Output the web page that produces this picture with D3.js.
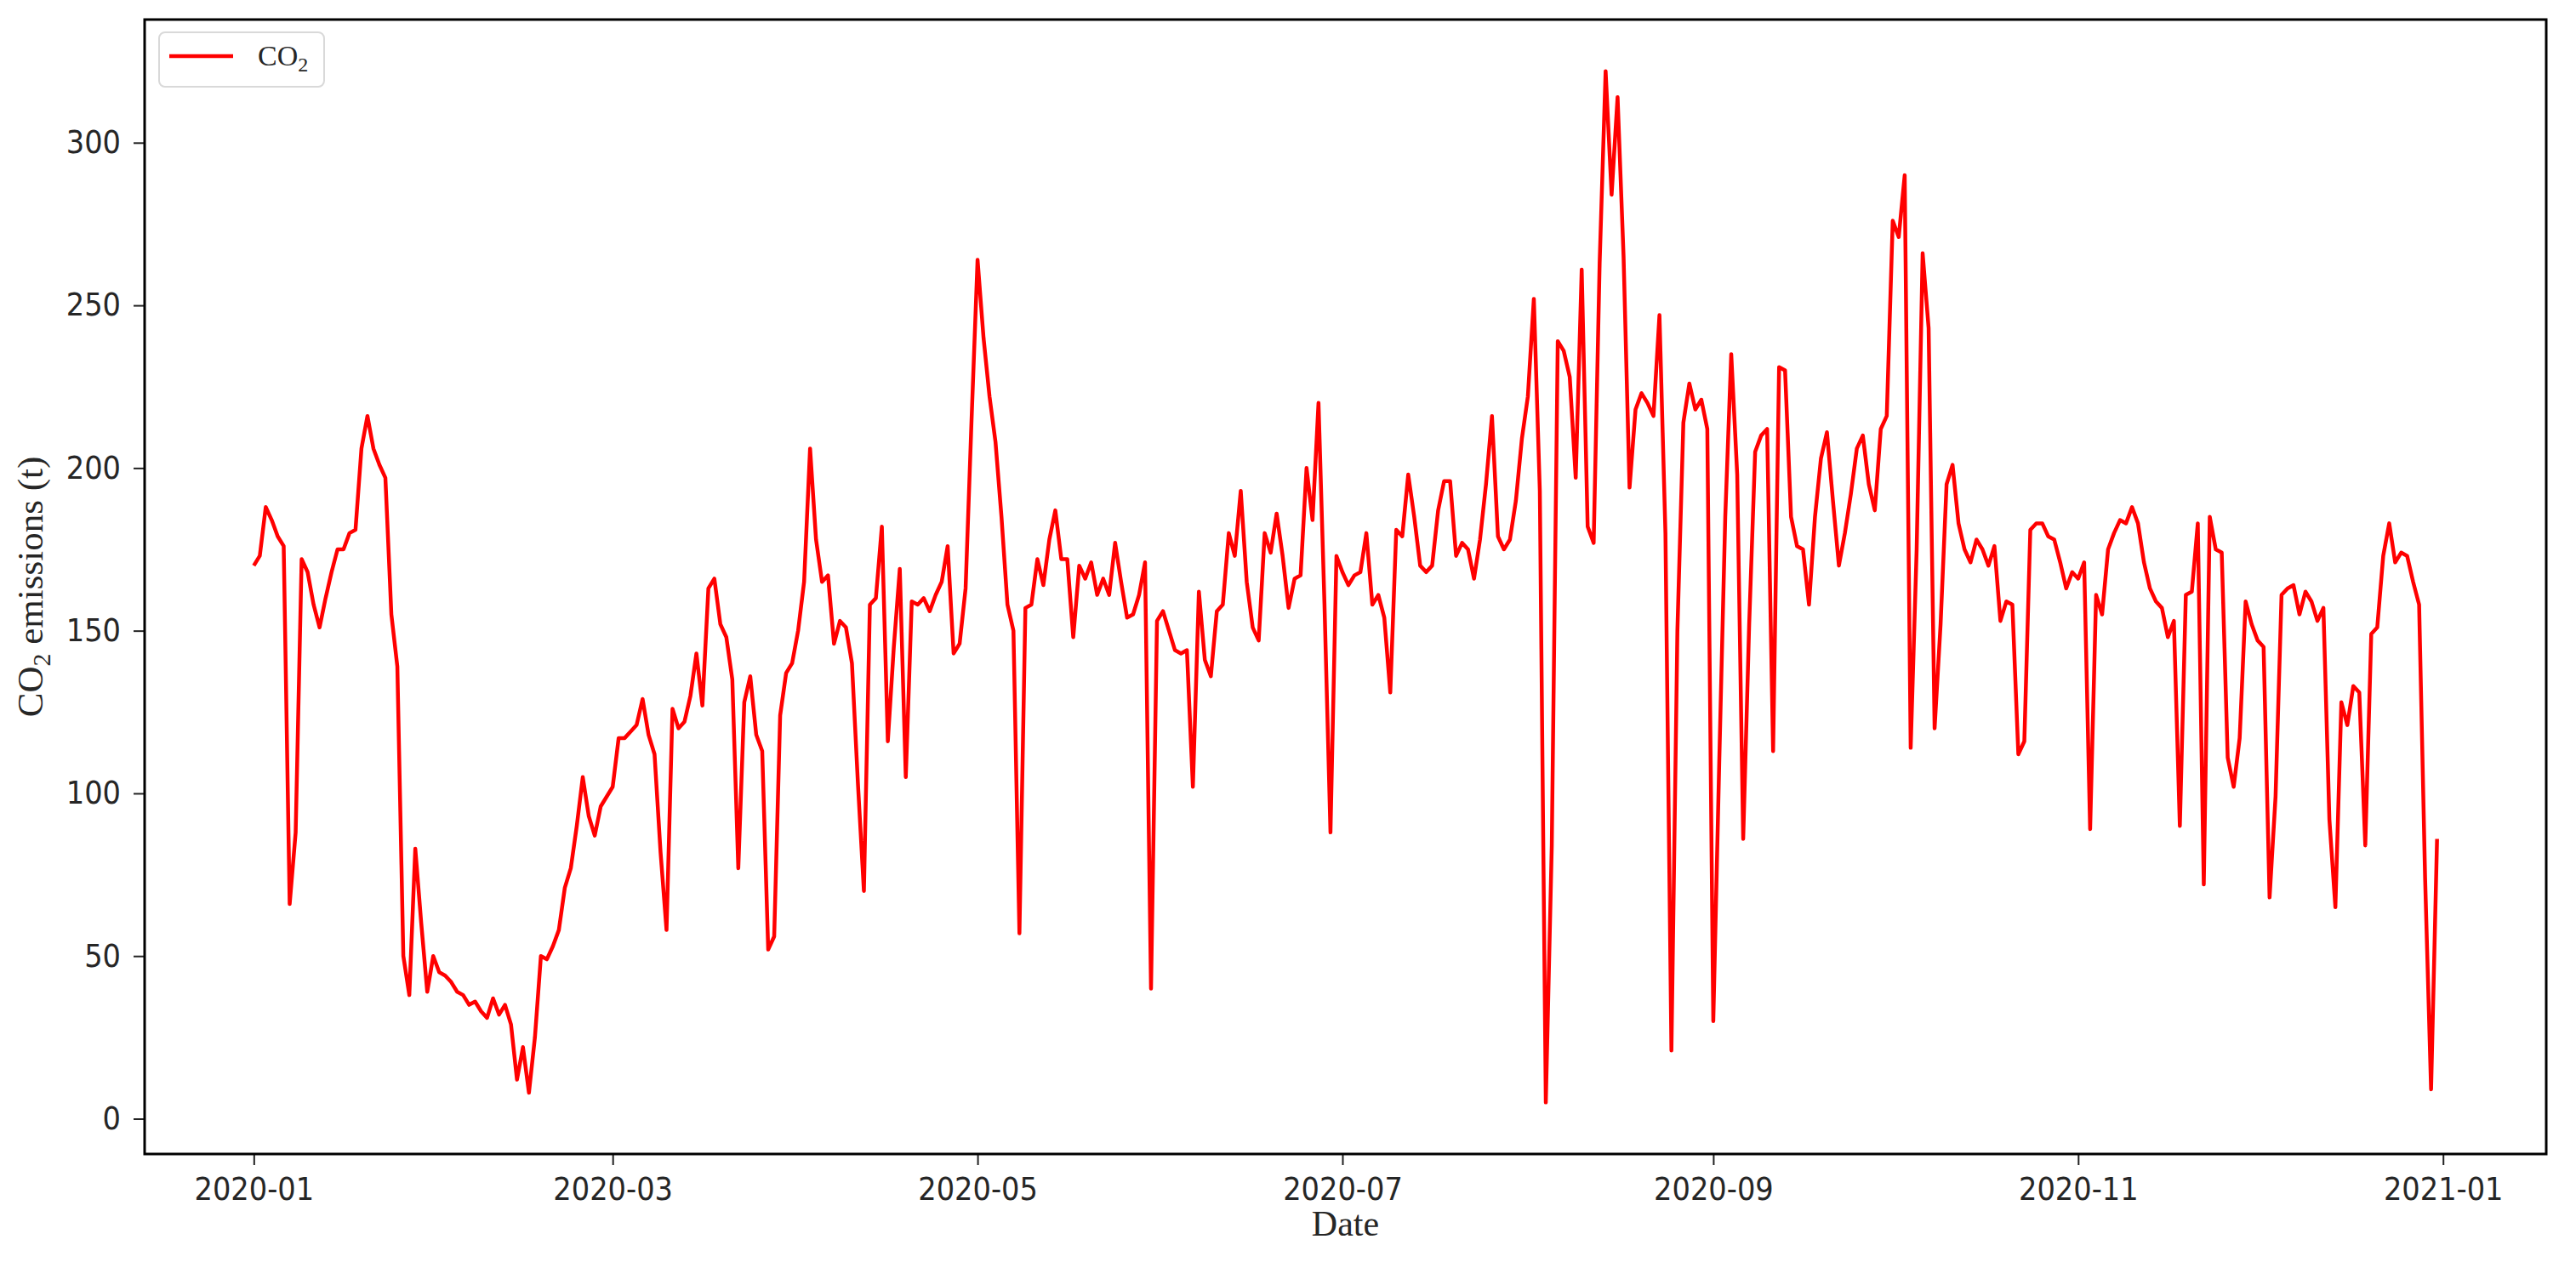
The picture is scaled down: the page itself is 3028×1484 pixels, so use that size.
<!DOCTYPE html>
<html>
<head>
<meta charset="utf-8">
<script src="https://cdn.jsdelivr.net/npm/d3@7/dist/d3.min.js"></script>
<style>
  html, body { margin: 0; padding: 0; background: #ffffff; }
  svg { display: block; }
</style>
</head>
<body>
<svg id="chart" width="3028" height="1484"></svg>
<script>
// ---------------- DATA ----------------
const startDate = "2020-01-01";
// Daily CO2 emissions (t), 2020-01-01 .. 2020-12-31
const co2Values = [
  170,173,188,184,179,176,66,88,172,168,
  158,151,160,168,175,175,180,181,206,216,
  206,201,197,155,139,50,38,83,60,39,
  50,45,44,42,39,38,35,36,33,31,
  37,32,35,29,12,22,8,25,50,49,
  53,58,71,77,90,105,93,87,96,99,
  102,117,117,119,121,129,118,112,82,58,
  126,120,122,130,143,127,163,166,152,148,
  135,77,128,136,118,113,52,56,124,137,
  140,150,165,206,178,165,167,146,153,151,
  140,103,70,158,160,182,116,145,169,105,
  159,158,160,156,161,165,176,143,146,163,
  215,264,240,222,208,185,158,150,57,157,
  158,172,164,178,187,172,172,148,170,166,
  171,161,166,161,177,165,154,155,161,171,
  40,153,156,150,144,143,144,102,162,141,
  136,156,158,180,173,193,165,151,147,180,
  174,186,173,157,166,167,200,184,220,158,
  88,173,168,164,167,168,180,158,161,154,
  131,181,179,198,185,170,168,170,187,196,
  196,173,177,175,166,178,195,216,179,175,
  178,190,209,222,252,193,5,84,239,236,
  228,197,261,182,177,263,322,284,314,265,
  194,218,223,220,216,247,180,21,150,214,
  226,218,221,212,30,110,185,235,198,86,
  152,205,210,212,113,231,230,185,176,175,
  158,185,203,211,190,170,180,192,206,210,
  195,187,212,216,276,271,290,114,175,266,
  243,120,152,195,201,183,175,171,178,175,
  170,176,153,159,158,112,116,181,183,183,
  179,178,171,163,168,166,171,89,161,155,
  175,180,184,183,188,183,171,163,159,157,
  148,153,90,161,162,183,72,185,175,174,
  111,102,117,159,152,147,145,68,99,161,
  163,164,155,162,159,153,157,92,65,128,
  121,133,131,84,149,151,173,183,171,174,
  173,165,158,74,9,86
];
const xTickLabels = ["2020-01","2020-03","2020-05","2020-07","2020-09","2020-11","2021-01"];
const yTickValues = [0, 50, 100, 150, 200, 250, 300];
const seriesName = "CO2";
const xAxisTitle = "Date";
const yAxisTitle = "CO2 emissions (t)";

// ---------------- LAYOUT ----------------
const W = 3028, H = 1484;
const plot = { left: 170, right: 2993, top: 23, bottom: 1357 };

const parseDay = d3.timeParse("%Y-%m-%d");
const parseMonth = d3.timeParse("%Y-%m");
const t0 = parseDay(startDate);
const data = co2Values.map((v, i) => ({ date: d3.timeDay.offset(t0, i), value: v }));

const xExt = d3.extent(data, d => d.date);
const xPad = (xExt[1] - xExt[0]) * 0.05;
const x = d3.scaleTime()
  .domain([new Date(+xExt[0] - xPad), new Date(+xExt[1] + xPad)])
  .range([plot.left, plot.right]);

const yExt = d3.extent(data, d => d.value);
const yPad = (yExt[1] - yExt[0]) * 0.05;
const y = d3.scaleLinear()
  .domain([yExt[0] - yPad, yExt[1] + yPad])
  .range([plot.bottom, plot.top]);

const svg = d3.select("#chart");
svg.append("rect").attr("width", W).attr("height", H).attr("fill", "#ffffff");

// ---------------- LINE ----------------
const line = d3.line().x(d => x(d.date)).y(d => y(d.value));
svg.append("path")
  .datum(data)
  .attr("fill", "none")
  .attr("stroke", "#ff0000")
  .attr("stroke-width", 4.5)
  .attr("stroke-linejoin", "round")
  .attr("stroke-linecap", "butt")
  .attr("d", line);

// ---------------- AXES ----------------
const tickFont = "'DejaVu Sans', Verdana, sans-serif";
const tickSize = 37, squeeze = 0.91;

function condense(sel) {
  sel.each(function() {
    const el = d3.select(this);
    const tx = +el.attr("x") || 0;
    el.attr("transform", `translate(${tx},0) scale(${squeeze},1) translate(${-tx},0)`);
  });
}

const xAxis = d3.axisBottom(x)
  .tickValues(xTickLabels.map(s => parseMonth(s)))
  .tickFormat(d3.timeFormat("%Y-%m"))
  .tickSize(13)
  .tickPadding(15);
const gx = svg.append("g")
  .attr("transform", `translate(0,${plot.bottom})`)
  .call(xAxis);
gx.select(".domain").remove();
gx.selectAll(".tick line").attr("stroke", "#222").attr("stroke-width", 2);
gx.selectAll(".tick text")
  .attr("fill", "#262626")
  .style("font-family", tickFont)
  .style("font-size", tickSize + "px")
  .call(condense);

const yAxis = d3.axisLeft(y)
  .tickValues(yTickValues)
  .tickFormat(d3.format("d"))
  .tickSize(13)
  .tickPadding(15);
const gy = svg.append("g")
  .attr("transform", `translate(${plot.left},0)`)
  .call(yAxis);
gy.select(".domain").remove();
gy.selectAll(".tick line").attr("stroke", "#222").attr("stroke-width", 2);
gy.selectAll(".tick text")
  .attr("fill", "#262626")
  .style("font-family", tickFont)
  .style("font-size", tickSize + "px")
  .call(condense);

// ---------------- FRAME ----------------
svg.append("rect")
  .attr("x", plot.left).attr("y", plot.top)
  .attr("width", plot.right - plot.left)
  .attr("height", plot.bottom - plot.top)
  .attr("fill", "none")
  .attr("stroke", "#000")
  .attr("stroke-width", 3);

// ---------------- AXIS TITLES ----------------
const serif = "'Liberation Serif', 'Times New Roman', serif";
function co2Text(sel, label, size) {
  // label starts with "CO2": render 2 as subscript
  sel.style("font-family", serif).style("font-size", size + "px").attr("fill", "#262626");
  sel.append("tspan").text("CO");
  sel.append("tspan").text("2").style("font-size", Math.round(size * 0.7) + "px").attr("dy", size * 0.22);
  const rest = label.slice(3);
  if (rest.length) sel.append("tspan").text(rest).attr("dy", -size * 0.22);
}

svg.append("text")
  .attr("x", (plot.left + plot.right) / 2)
  .attr("y", 1453)
  .attr("text-anchor", "middle")
  .style("font-family", serif)
  .style("font-size", "42px")
  .attr("fill", "#262626")
  .text(xAxisTitle);

const yt = svg.append("text")
  .attr("transform", `translate(50,${(plot.top + plot.bottom) / 2}) rotate(-90)`)
  .attr("text-anchor", "middle");
co2Text(yt, yAxisTitle, 43);

// ---------------- LEGEND ----------------
const lg = svg.append("g");
lg.append("rect")
  .attr("x", 187).attr("y", 38).attr("width", 194).attr("height", 64)
  .attr("rx", 7).attr("ry", 7)
  .attr("fill", "#ffffff").attr("fill-opacity", 0.8)
  .attr("stroke", "#d9d9d9").attr("stroke-width", 2);
lg.append("line")
  .attr("x1", 199).attr("x2", 274).attr("y1", 66).attr("y2", 66)
  .attr("stroke", "#ff0000").attr("stroke-width", 4.5);
const lt = lg.append("text").attr("x", 303).attr("y", 77);
co2Text(lt, seriesName, 34);
</script>
</body>
</html>
